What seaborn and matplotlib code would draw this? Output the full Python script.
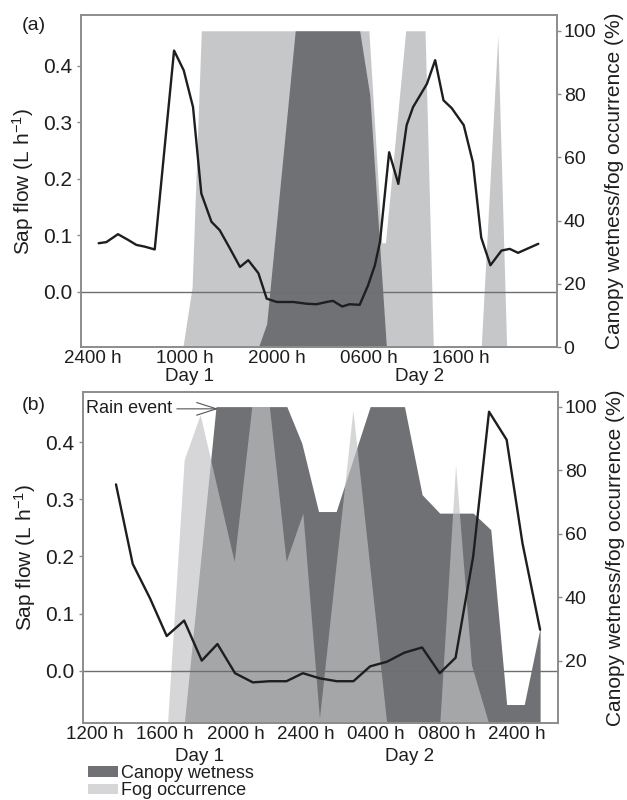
import matplotlib
matplotlib.use("Agg")
import matplotlib.pyplot as plt
import seaborn as sns
from matplotlib.patches import Patch

sns.set_theme(style="white")
plt.rcParams['font.family'] = ['Liberation Sans', 'DejaVu Sans']
plt.rcParams['mathtext.fontset'] = 'custom'
plt.rcParams['mathtext.rm'] = 'Liberation Sans'
plt.rcParams['mathtext.it'] = 'Liberation Sans:italic'

# ---- panel (a): hours after 2400 h ----
a_hours = [0.65, 1.49, 2.75, 3.84, 4.75, 5.65, 6.74, 8.84, 9.89, 10.9, 11.8, 12.9, 13.8, 14.9, 16.0,
           16.9, 18.0, 18.9, 20.0, 21.8, 23.2, 24.3, 25.4, 26.1, 27.1, 27.9, 29.0, 29.9, 30.65, 31.2,
           32.2, 33.2, 34.1, 34.8, 36.3, 37.2, 38.1, 39.0, 40.3, 41.3, 42.2, 43.2, 44.4, 45.3, 46.2,
           47.3, 48.4]
a_sap = [0.086, 0.088, 0.102, 0.092, 0.083, 0.080, 0.075, 0.427, 0.392, 0.327, 0.174, 0.124, 0.109,
         0.077, 0.044, 0.056, 0.033, -0.012, -0.018, -0.018, -0.021, -0.022, -0.018, -0.016, -0.026,
         -0.022, -0.023, 0.011, 0.047, 0.088, 0.247, 0.191, 0.295, 0.327, 0.368, 0.410, 0.339, 0.325,
         0.295, 0.229, 0.096, 0.047, 0.073, 0.076, 0.069, 0.077, 0.085]
a_fog_h = [9.8, 10.8, 11.8, 30.0, 31.4, 31.8, 34.0, 36.1, 37.0, 42.2, 44.0, 44.96]
a_fog = [0, 19, 100, 100, 33, 33, 100, 100, 0, 0, 98.5, 0]
a_wet_h = [18.0, 18.9, 22.0, 29.0, 30.1, 31.9]
a_wet = [0, 7.4, 100, 100, 79.6, 0]
a_ticks = [0, 10, 20, 30, 40]
a_ticklabels = ["2400 h", "1000 h", "2000 h", "0600 h", "1600 h"]

# ---- panel (b): hours after 1200 h ----
b_hours = [1.22, 2.17, 3.15, 4.1, 5.09, 6.09, 6.98, 7.98, 8.99, 9.95, 10.9, 11.83, 12.8, 13.76, 14.7,
           15.65, 16.6, 17.6, 18.6, 19.6, 20.5, 21.5, 22.4, 23.4, 24.3, 25.3]
b_sap = [0.326, 0.187, 0.127, 0.061, 0.088, 0.018, 0.047, -0.004, -0.020, -0.018, -0.018, -0.004,
         -0.013, -0.018, -0.018, 0.008, 0.016, 0.032, 0.041, -0.004, 0.023, 0.200, 0.453, 0.404,
         0.223, 0.072]
b_fog_h = [4.14, 5.09, 6.0, 7.93, 8.93, 9.93, 10.88, 11.83, 12.77, 14.67, 16.6, 19.6, 20.5, 21.4, 22.4]
b_fog = [0, 83.3, 97.5, 51.3, 100, 100, 51.3, 66.5, 2, 99, 0, 0, 81.7, 18.8, 0]
b_wet_h = [5.09, 6.9, 10.92, 11.77, 12.72, 13.72, 15.65, 17.6, 18.6, 19.6, 21.5, 22.5, 23.4, 24.4, 25.3]
b_wet = [0, 100, 100, 88.5, 67, 67, 100, 100, 72.3, 66.5, 66.5, 61.3, 6.3, 6.3, 30.4]
b_ticks = [0, 4, 8, 12, 16, 20, 24]
b_ticklabels = ["1200 h", "1600 h", "2000 h", "2400 h", "0400 h", "0800 h", "2400 h"]

DARK = "#707175"
LIGHT_A = "#c6c7c9"
FOG_B = "#c1c2c4"
SPINE = "#8c8c8c"
TXT = "#1e1e1e"

fig = plt.figure(figsize=(6.27, 8.0), dpi=100)
ax_a = fig.add_axes([0.1287, 0.566, 0.7592, 0.4153])
ax_b = fig.add_axes([0.1319, 0.0959, 0.7576, 0.4145])


def setup(ax, xlim, ylim, rlim, rticks, ticks, ticklabels):
    ax2 = ax.twinx()
    ax.set_zorder(ax2.get_zorder() + 1)
    ax.patch.set_visible(False)
    ax.set_xlim(*xlim)
    ax.set_ylim(*ylim)
    ax2.set_ylim(*rlim)
    ax.set_yticks([0.0, 0.1, 0.2, 0.3, 0.4])
    ax.set_yticklabels(["0.0", "0.1", "0.2", "0.3", "0.4"])
    ax2.set_yticks(rticks)
    ax.set_xticks(ticks)
    ax.set_xticklabels(ticklabels)
    for a in (ax, ax2):
        for s in a.spines.values():
            s.set_color(SPINE)
            s.set_linewidth(1.2)
    ax.tick_params(axis='y', direction='out', length=3, width=1, color=SPINE,
                   labelsize=15, labelcolor=TXT, pad=3)
    ax2.tick_params(axis='y', direction='out', length=3, width=1, color=SPINE,
                    labelsize=14, labelcolor=TXT, pad=2)
    ax.tick_params(axis='x', length=0, labelsize=13.5, labelcolor=TXT, pad=2)
    ax.axhline(0, color="#6e6e6e", lw=1.0, zorder=1)
    ax.set_ylabel("Sap flow (L h$^{-1}$)", fontsize=15, color=TXT, labelpad=5)
    ax2.set_ylabel("Canopy wetness/fog occurrence (%)", fontsize=15, color=TXT, labelpad=6)
    return ax2


# panel (a)
ax2_a = setup(ax_a, (-1.3, 50.4), (-0.098, 0.49), (0, 105), [0, 20, 40, 60, 80, 100],
              a_ticks, a_ticklabels)
ax2_a.fill_between(a_fog_h, a_fog, 0, color=LIGHT_A, lw=0)
ax2_a.fill_between(a_wet_h, a_wet, 0, color=DARK, lw=0)
sns.lineplot(x=a_hours, y=a_sap, ax=ax_a, color=TXT, lw=1.7, estimator=None, zorder=3)
ax_a.text(10.5, -0.087, "Day 1", transform=ax_a.get_xaxis_transform(), ha='center', va='center',
          fontsize=13.5, color=TXT)
ax_a.text(35.5, -0.087, "Day 2", transform=ax_a.get_xaxis_transform(), ha='center', va='center',
          fontsize=13.5, color=TXT)
fig.text(22 / 627, 1 - 25 / 800, "(a)", fontsize=14, color=TXT, va='center')

# panel (b)
ax2_b = setup(ax_b, (-0.67, 26.3), (-0.0915, 0.488), (0.4, 104.7), [20, 40, 60, 80, 100],
              b_ticks, b_ticklabels)
ax2_b.fill_between(b_wet_h, b_wet, 0, color=DARK, lw=0)
ax2_b.fill_between(b_fog_h, b_fog, 0, color=FOG_B, alpha=0.66, lw=0)
sns.lineplot(x=b_hours, y=b_sap, ax=ax_b, color=TXT, lw=1.7, estimator=None, zorder=3)
ax_b.text(5.94, -0.099, "Day 1", transform=ax_b.get_xaxis_transform(), ha='center', va='center',
          fontsize=13.5, color=TXT)
ax_b.text(17.9, -0.099, "Day 2", transform=ax_b.get_xaxis_transform(), ha='center', va='center',
          fontsize=13.5, color=TXT)
ax2_b.annotate("Rain event", xy=(7.03, 99.3), xytext=(-0.48, 99.3), ha='left', va='center',
               fontsize=13, color=TXT,
               arrowprops=dict(arrowstyle='->,head_length=1.1,head_width=0.35', color="#555555",
                               lw=0.8, shrinkA=1, shrinkB=0))
fig.text(22 / 627, 1 - 406 / 800, "(b)", fontsize=14, color=TXT, va='center')

handles = [Patch(color=DARK, lw=0), Patch(color=FOG_B, alpha=0.66, lw=0)]
fig.legend(handles, ["Canopy wetness", "Fog occurrence"], loc='upper left',
           bbox_to_anchor=(88 / 627, 1 - 765 / 800), frameon=False, fontsize=13,
           handlelength=1.65, handleheight=0.5, handletextpad=0.2, labelspacing=0.02,
           borderpad=0, borderaxespad=0, labelcolor=TXT)

fig.savefig("out.png", dpi=100)
